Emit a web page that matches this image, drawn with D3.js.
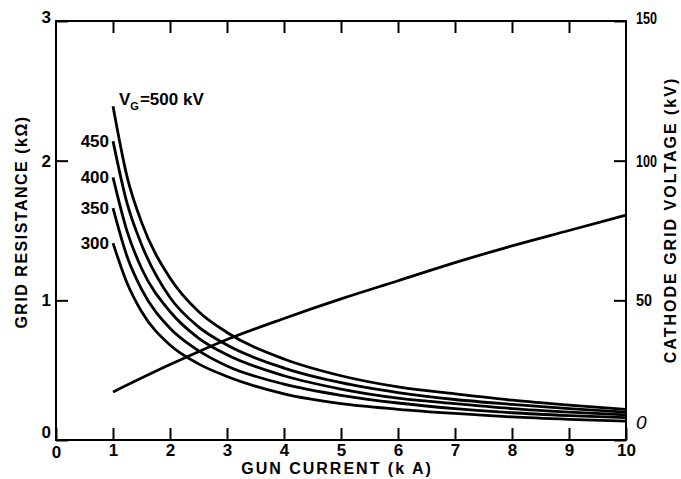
<!DOCTYPE html>
<html>
<head>
<meta charset="utf-8">
<script src="https://cdn.jsdelivr.net/npm/d3@7/dist/d3.min.js"></script>
<style>
  html, body { margin: 0; padding: 0; background: #fff; }
  svg text { font-family: "Liberation Sans", Arial, sans-serif; fill: #000; }
</style>
</head>
<body>
<svg id="chart" width="681" height="479"></svg>
<script>
// Gun current (kA) sample points for the grid-resistance curves
const current = [1, 1.25, 1.5, 2, 2.5, 3, 4, 5, 6, 7, 8, 9, 10];

// Grid resistance (kΩ) for each grid voltage V_G
const vgLevels = ["500", "450", "400", "350", "300"];
const r500 = [2.39, 1.88, 1.56, 1.16, 0.92, 0.77, 0.58, 0.46, 0.38, 0.33, 0.285, 0.25, 0.22];
const r450 = [2.14, 1.69, 1.40, 1.02, 0.81, 0.68, 0.515, 0.41, 0.34, 0.29, 0.255, 0.225, 0.20];
const r400 = [1.88, 1.49, 1.23, 0.92, 0.73, 0.61, 0.46, 0.365, 0.30, 0.26, 0.225, 0.20, 0.18];
const r350 = [1.66, 1.31, 1.08, 0.80, 0.64, 0.53, 0.40, 0.32, 0.265, 0.225, 0.195, 0.175, 0.16];
const r300 = [1.41, 1.12, 0.92, 0.68, 0.545, 0.455, 0.33, 0.26, 0.22, 0.19, 0.165, 0.148, 0.135];

// Cathode grid voltage (kV) against gun current (kA)
const voltageCurrent = [1, 2, 3, 4, 5, 6, 7, 8, 9, 10];
const gridVoltage = [17.2, 27, 36, 43.5, 50.5, 57, 63.5, 69.5, 75, 80.5];

// Tick labels
const xTicks = [0, 1, 2, 3, 4, 5, 6, 7, 8, 9, 10];
const leftTicks = [0, 1, 2, 3];
const rightTicks = [0, 50, 100, 150];

const svg = d3.select("#chart");
const x = d3.scaleLinear().domain([0, 10]).range([56, 626]);
const yL = d3.scaleLinear().domain([0, 3]).range([440, 21]);
const yR = d3.scaleLinear().domain([0, 150]).range([440, 21]);

const tickLen = 12;

// Bottom axis: ticks point inward, labels below
const gx = svg.append("g").attr("transform", `translate(0,${yL(0)})`)
  .call(d3.axisBottom(x).tickValues(xTicks).tickSizeInner(-tickLen).tickSizeOuter(0)
    .tickPadding(4).tickFormat(d3.format("d")));
// Top axis: inward ticks, no labels
const gt = svg.append("g").attr("transform", `translate(0,${yL(3)})`)
  .call(d3.axisTop(x).tickValues(xTicks.slice(1, -1)).tickSizeInner(-tickLen).tickSizeOuter(0).tickFormat(""));
// Left axis
const gl = svg.append("g").attr("transform", `translate(${x(0)},0)`)
  .call(d3.axisLeft(yL).tickValues(leftTicks).tickSizeInner(-tickLen).tickSizeOuter(0)
    .tickPadding(5).tickFormat(d3.format("d")));
// Right axis
const gr = svg.append("g").attr("transform", `translate(${x(10)},0)`)
  .call(d3.axisRight(yR).tickValues(rightTicks).tickSizeInner(-tickLen).tickSizeOuter(0)
    .tickPadding(10).tickFormat(d3.format("d")));

[gx, gt, gl, gr].forEach(g => {
  g.select(".domain").remove();
  g.selectAll(".tick line").attr("stroke", "#000").attr("stroke-width", 2);
  g.selectAll(".tick text").attr("font-size", 17).attr("font-weight", "bold");
});
// Narrow right-hand numerals so they clear the axis title
gr.selectAll(".tick").filter(d => d >= 100).select("text")
  .attr("textLength", 21).attr("lengthAdjust", "spacingAndGlyphs");
gr.selectAll(".tick").filter(d => d === 50).select("text")
  .attr("textLength", 16).attr("lengthAdjust", "spacingAndGlyphs");

// The two zeros at the origin sit apart from each other
gl.selectAll(".tick").filter(d => d === 0).select("text").attr("dy", "-0.15em");
gl.selectAll(".tick").filter(d => d === 3).select("text").attr("dy", "0.1em");
gr.selectAll(".tick").filter(d => d === 0).select("text")
  .attr("dy", "-0.6em").attr("font-style", "italic").attr("font-weight", "normal").attr("font-size", 19);
gr.selectAll(".tick").filter(d => d === 150).select("text").attr("dy", "0.15em");
gx.selectAll(".tick").filter(d => d === 0).select("text").attr("dy", "0.85em");

// Plot frame
svg.append("rect")
  .attr("x", x(0)).attr("y", yL(3))
  .attr("width", x(10) - x(0)).attr("height", yL(0) - yL(3))
  .attr("fill", "none").attr("stroke", "#000").attr("stroke-width", 2);

// Grid-resistance curves
const series = [r500, r450, r400, r350, r300];
const rLine = d3.line().x((d, i) => x(current[i])).y(d => yL(d)).curve(d3.curveMonotoneX);
svg.append("g").selectAll("path").data(series).join("path")
  .attr("d", rLine)
  .attr("fill", "none").attr("stroke", "#000").attr("stroke-width", 2.8);

// Cathode grid voltage line
const vLine = d3.line().x((d, i) => x(voltageCurrent[i])).y(d => yR(d)).curve(d3.curveMonotoneX);
svg.append("path").datum(gridVoltage)
  .attr("d", vLine)
  .attr("fill", "none").attr("stroke", "#000").attr("stroke-width", 2.8);

// Curve labels
const vg = svg.append("text")
  .attr("x", x(current[0]) + 6).attr("y", yL(series[0][0]) - 1)
  .attr("font-size", 17).attr("font-weight", "bold");
vg.append("tspan").text("V");
vg.append("tspan").attr("font-size", 11).attr("dy", 5).text("G");
vg.append("tspan").attr("dy", -5).attr("dx", 1).text("=" + vgLevels[0] + " kV");

svg.append("g").selectAll("text").data(series.slice(1)).join("text")
  .attr("x", x(current[0]) - 4)
  .attr("y", d => yL(d[0]) + 6)
  .attr("text-anchor", "end")
  .attr("font-size", 17).attr("font-weight", "bold")
  .text((d, i) => vgLevels[i + 1]);

// Axis titles
svg.append("text")
  .attr("x", 337).attr("y", 474).attr("text-anchor", "middle")
  .attr("font-size", 16).attr("font-weight", "bold").attr("letter-spacing", 2)
  .text("GUN CURRENT (k A)");

svg.append("text")
  .attr("transform", "translate(27,222) rotate(-90)").attr("text-anchor", "middle")
  .attr("font-size", 16).attr("font-weight", "bold").attr("letter-spacing", 1.5)
  .text("GRID RESISTANCE (kΩ)");

svg.append("text")
  .attr("transform", "translate(676,220) rotate(-90)").attr("text-anchor", "middle")
  .attr("font-size", 16).attr("font-weight", "bold").attr("letter-spacing", 2)
  .text("CATHODE GRID VOLTAGE (kV)");
</script>
</body>
</html>
